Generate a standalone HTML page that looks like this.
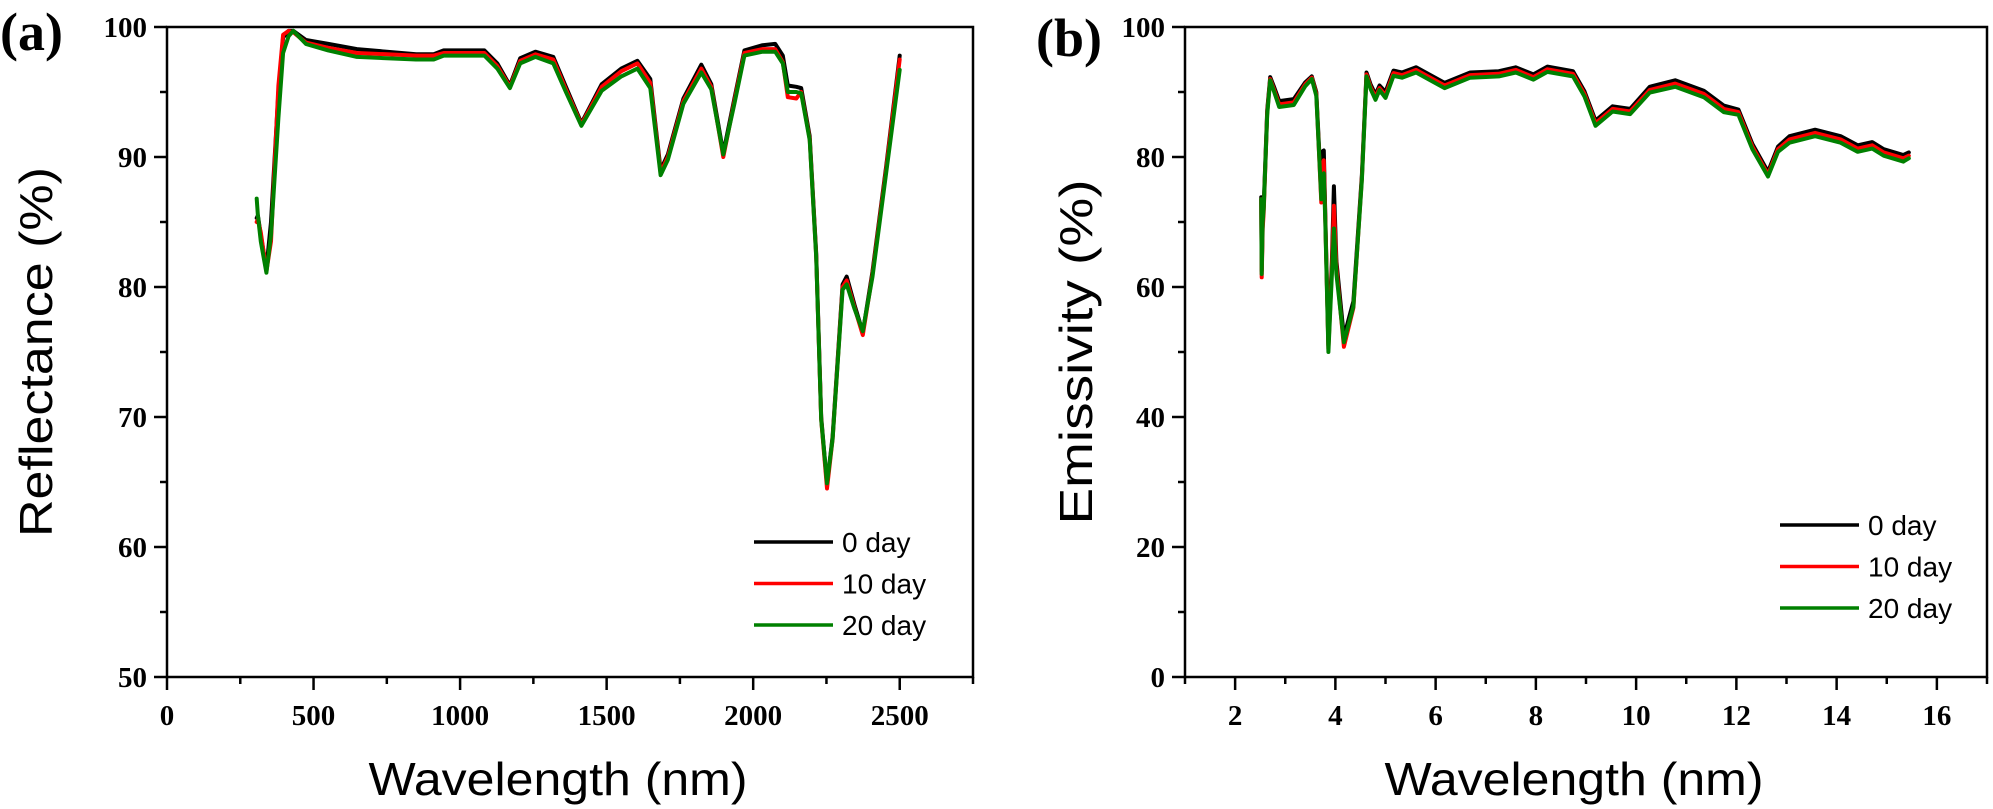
<!DOCTYPE html>
<html><head><meta charset="utf-8"><style>
html,body{margin:0;padding:0;background:#fff;}
svg{display:block;}
.tk{font-family:"Liberation Serif",serif;font-weight:bold;font-size:29px;fill:#000;}
.ttl{font-family:"Liberation Sans",sans-serif;font-size:46px;fill:#000;}
.lg{font-family:"Liberation Sans",sans-serif;font-size:28px;fill:#000;}
.pl{font-family:"Liberation Serif",serif;font-weight:bold;font-size:54px;fill:#000;}
</style></head><body>
<svg id="chart" width="1993" height="809" viewBox="0 0 1993 809" xmlns="http://www.w3.org/2000/svg">
<rect width="1993" height="809" fill="#fff"/>
<text class="pl" x="0" y="50">(a)</text>
<text class="pl" x="1036" y="56">(b)</text>
<g id="pa"></g>
<g id="pb"></g>
</svg>
<script>
const seriesNames = ["0 day", "10 day", "20 day"];
const seriesColors = ["#000000", "#ff0000", "#008000"];

const aX = [306,310,320,339,355,380,396,415,431,474,550,648,750,850,910,944,1000,1083,1127,1170,1205,1257,1318,1361,1414,1483,1550,1605,1649,1684,1709,1762,1823,1857,1898,1936,1970,2032,2075,2101,2118,2147,2164,2193,2215,2232,2252,2271,2305,2319,2346,2374,2407,2454,2500];
const aDay0 = [85.3,85.5,84,81.4,85,95,99.2,99.7,99.7,99.0,98.7,98.3,98.1,97.9,97.9,98.2,98.2,98.2,97.2,95.5,97.6,98.1,97.7,95.4,92.6,95.6,96.8,97.4,96,89,90.2,94.5,97.1,95.6,90.3,94.5,98.2,98.6,98.7,97.8,95.5,95.4,95.3,91.6,82.6,70,64.8,68.5,80.2,80.8,78.6,76.5,81.2,89.3,97.8];
const aDay10 = [85.0,85.2,84.2,81.2,83.5,95.5,99.4,99.7,99.6,98.8,98.4,98.0,97.9,97.8,97.8,98.0,98.0,98.0,97.0,95.4,97.4,97.9,97.5,95.2,92.5,95.4,96.6,97.2,95.7,88.8,90,94.3,96.8,95.4,90.0,94.3,98.0,98.3,98.3,97.3,94.6,94.5,95.0,91.4,82.4,69.8,64.5,68.3,80.0,80.5,78.4,76.3,81.0,89.1,97.5];
const aDay20 = [86.8,85.5,83.5,81.1,84,93,98,99.3,99.7,98.7,98.2,97.7,97.6,97.5,97.5,97.8,97.8,97.8,96.8,95.3,97.2,97.7,97.2,95.0,92.4,95.1,96.2,96.8,95.3,88.6,89.8,94.1,96.5,95.2,90.2,94.1,97.8,98.1,98.1,97.2,95.0,95.0,94.9,91.3,82.3,69.8,64.9,68.3,79.8,80.2,78.3,76.6,80.8,88.8,96.7];
const aXTicks = [0,500,1000,1500,2000,2500];
const aYTicks = [50,60,70,80,90,100];

const bX = [2.52,2.53,2.55,2.57,2.64,2.70,2.78,2.88,3.17,3.40,3.53,3.62,3.72,3.75,3.77,3.80,3.86,3.93,3.97,4.02,4.17,4.36,4.53,4.62,4.70,4.80,4.88,5.00,5.16,5.33,5.61,6.18,6.69,7.26,7.60,7.95,8.23,8.74,8.97,9.19,9.53,9.88,10.27,10.78,11.35,11.75,12.04,12.32,12.63,12.83,13.06,13.57,14.08,14.42,14.71,14.94,15.33,15.44];
const bDay0 = [73.8,62.5,70.5,72.5,87.2,92.3,90.7,88.6,88.9,91.5,92.4,90,74.5,80.9,81,71,51,64,75.5,64,52.3,57.8,77.3,93,91.2,89.6,91,90,93.3,93,93.8,91.4,93,93.2,93.8,92.7,93.9,93.2,90.1,85.6,87.8,87.4,90.8,91.8,90.2,87.9,87.3,82,77.7,81.6,83.2,84.2,83.2,81.8,82.3,81.2,80.3,80.7];
const bDay10 = [73.5,61.5,69,71.5,86.8,92.0,90.3,88.1,88.4,91.2,92.2,89.7,73,79,79.5,70.5,50.5,63,72.5,63,50.8,56.8,76.8,92.7,90.8,89.2,90.6,89.5,92.9,92.6,93.4,91,92.6,92.8,93.4,92.3,93.5,92.8,89.7,85.2,87.4,87,90.3,91.3,89.7,87.4,86.9,81.6,77.3,81.2,82.7,83.7,82.7,81.3,81.8,80.7,79.8,80.2];
const bDay20 = [73.5,62,70,72,86.5,91.8,90,87.7,88,90.9,92,89.4,73.5,77,77.5,70,50,62,69,62,51.5,57,76.5,92.4,90.5,88.8,90.3,89.1,92.5,92.2,93,90.6,92.2,92.4,93,91.9,93.1,92.4,89.3,84.8,87,86.6,89.9,90.8,89.2,86.9,86.5,81.2,77,80.8,82.2,83.2,82.2,80.8,81.3,80.2,79.3,79.8];
const bXTicks = [2,4,6,8,10,12,14,16];
const bYTicks = [0,20,40,60,80,100];

const NS = "http://www.w3.org/2000/svg";
function mk(tag, attrs, parent){
  const e = document.createElementNS(NS, tag);
  for (const k in attrs) e.setAttribute(k, attrs[k]);
  parent.appendChild(e);
  return e;
}

function drawPanel(g, cfg){
  const sx = v => cfg.left + (v - cfg.xmin) / (cfg.xmax - cfg.xmin) * (cfg.right - cfg.left);
  const sy = v => cfg.bottom - (v - cfg.ymin) / (cfg.ymax - cfg.ymin) * (cfg.bottom - cfg.top);
  // series
  for (let s = 0; s < 3; s++){
    const pts = cfg.x.map((xv, i) => sx(xv).toFixed(1) + "," + sy(cfg.series[s][i]).toFixed(1)).join(" ");
    const pl = mk("polyline", {points: pts, fill: "none", stroke: seriesColors[s], "stroke-width": 4, "stroke-linejoin": "round", "stroke-linecap": "round"}, g);
    
    
  }
  // frame
  const fr = mk("rect", {x: cfg.left, y: cfg.top, width: cfg.right - cfg.left, height: cfg.bottom - cfg.top, fill: "none", stroke: "#000", "stroke-width": 2.5}, g);
  
  
  // x ticks
  for (let v = cfg.xmin; v <= cfg.xmax + 1e-9; v += cfg.xminor){
    const major = cfg.xticks.some(t => Math.abs(t - v) < 1e-6);
    const t = mk("line", {x1: sx(v), x2: sx(v), y1: cfg.bottom, y2: cfg.bottom + (major ? 13 : 7), stroke: "#000", "stroke-width": 2.5}, g);
    
    
  }
  cfg.xticks.forEach(v => {
    const tx = mk("text", {x: sx(v), y: cfg.bottom + 48, "text-anchor": "middle", class: "tk"}, g);
    tx.textContent = v;
    
    
  });
  for (let v = cfg.ymin; v <= cfg.ymax + 1e-9; v += cfg.yminor){
    const major = cfg.yticks.some(t => Math.abs(t - v) < 1e-6);
    const t = mk("line", {x1: cfg.left - (major ? 13 : 7), x2: cfg.left, y1: sy(v), y2: sy(v), stroke: "#000", "stroke-width": 2.5}, g);
    
    
  }
  cfg.yticks.forEach(v => {
    const tx = mk("text", {x: cfg.left - 20, y: sy(v) + 10, "text-anchor": "end", class: "tk"}, g);
    tx.textContent = v;
    
    
  });
  // titles
  const xt = mk("text", {x: (cfg.left + cfg.right) / 2 - 12, y: 795, "text-anchor": "middle", class: "ttl", textLength: 379, lengthAdjust: "spacingAndGlyphs"}, g);
  xt.textContent = "Wavelength (nm)";
  
  
  const yc = (cfg.top + cfg.bottom) / 2;
  const yt = mk("text", {x: 0, y: 0, "text-anchor": "middle", class: "ttl", textLength: cfg.ytitleLen, lengthAdjust: "spacingAndGlyphs", transform: "translate(" + cfg.ytitleX + "," + yc + ") rotate(-90)"}, g);
  yt.textContent = cfg.ytitle;
  
  
  // legend
  for (let s = 0; s < 3; s++){
    const y = cfg.legY + s * 41.5;
    const ln = mk("line", {x1: cfg.legX, x2: cfg.legX + 79, y1: y, y2: y, stroke: seriesColors[s], "stroke-width": 3.5}, g);
    
    
    const lt = mk("text", {x: cfg.legX + 88, y: y + 10, class: "lg"}, g);
    lt.textContent = seriesNames[s];
    
    
  }
}

drawPanel(document.getElementById("pa"), {
  prefix: "reflectance", left: 167, right: 973, top: 27, bottom: 677,
  xmin: 0, xmax: 2750, ymin: 50, ymax: 100, xminor: 250, yminor: 5,
  x: aX, series: [aDay0, aDay10, aDay20], xticks: aXTicks, yticks: aYTicks,
  ytitle: "Reflectance (%)", ytitleX: 52, ytitleLen: 370, legX: 754, legY: 542
});
drawPanel(document.getElementById("pb"), {
  prefix: "emissivity", left: 1185, right: 1987, top: 27, bottom: 677,
  xmin: 1, xmax: 17, ymin: 0, ymax: 100, xminor: 1, yminor: 10,
  x: bX, series: [bDay0, bDay10, bDay20], xticks: bXTicks, yticks: bYTicks,
  ytitle: "Emissivity (%)", ytitleX: 1092, ytitleLen: 345, legX: 1780, legY: 525
});
</script>
</body></html>
